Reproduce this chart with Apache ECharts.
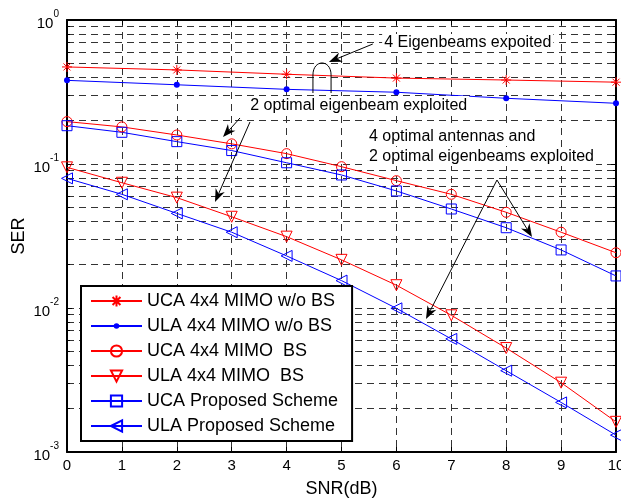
<!DOCTYPE html>
<html>
<head>
<meta charset="utf-8">
<script src="https://cdn.jsdelivr.net/npm/echarts@6/dist/echarts.min.js"></script>
<style>
html,body{margin:0;padding:0;background:#fff;}
#c{width:621px;height:504px;}
</style>
</head>
<body>
<div id="c"></div>
<script>
// ---- data ----
const snr = [0,1,2,3,4,5,6,7,8,9,10];
const snrEven = [0,2,4,6,8,10];
const ucaNoBS = [0.472,0.45,0.42,0.395,0.383,0.37];
const ulaNoBS = [0.381,0.355,0.33,0.315,0.286,0.264];
const ucaBS = [0.197,0.181,0.159,0.138,0.118,0.0958,0.0766,0.0616,0.0462,0.0336,0.0242];
const ulaBS = [0.0948,0.0741,0.0584,0.043,0.0313,0.0216,0.0144,0.0089,0.00527,0.00303,0.00162];
const ucaProp = [0.1845,0.166,0.143,0.124,0.102,0.0839,0.065,0.0487,0.0361,0.0253,0.0167];
const ulaProp = [0.0795,0.0616,0.0454,0.0336,0.023,0.0155,0.00995,0.0061,0.00367,0.00221,0.00131];
const seriesNames = ['UCA 4x4 MIMO w/o BS','ULA 4x4 MIMO w/o BS','UCA 4x4 MIMO  BS','ULA 4x4 MIMO  BS','UCA Proposed Scheme','ULA Proposed Scheme'];
const xTicks = [0,1,2,3,4,5,6,7,8,9,10];
// annotation anchors (data coordinates)
const annText1 = {text:'4 Eigenbeams expoited', at:[5.74, 0.692]};
const annArrow1 = {from:[5.57, 0.681], to:[4.77, 0.511]};
const annArch = {x1:4.48, x2:4.81, top:0.503, bottom:0.311};
const annText2 = {text:'2 optimal eigenbeam exploited', at:[3.30, 0.253]};
const annArrows2 = [{from:[3.151,0.2087], to:[2.842,0.154]}, {from:[3.333,0.1957], to:[2.696,0.0545]}];
const annText3 = [{text:'4 optimal antennas and', at:[5.464,0.154]}, {text:'2 optimal eigenbeams exploited', at:[5.464,0.112]}];
const annArrows3 = [{from:[7.832,0.0774], to:[8.47,0.0311]}, {from:[7.832,0.0774], to:[6.539,0.00839]}];

const FONT = '"Liberation Sans", Arial, Helvetica, sans-serif';
const RED = '#ff0000', BLUE = '#0000ff';
const gridLine = {show:true, lineStyle:{color:'#333', width:1, type:[7,5]}};
const STAR = 'path://M0,-10L0,10M-10,0L10,0M-7,-7L7,7M-7,7L7,-7';
const DOT = 'path://M-6,-6M6,6M-3,0A3,3 0 1,0 3,0A3,3 0 1,0 -3,0Z';

function pairs(xs, ys){ return xs.map((x,i)=>[x, ys[i]]); }
function mk(name, xs, ys, color, symbol, size, opts){
  return Object.assign({
    name, type:'line', data:pairs(xs, ys), symbol, symbolSize:size,
    lineStyle:{color, width:1}, itemStyle:{color:'rgba(0,0,0,0)', borderColor:color, borderWidth:1},
    showAllSymbol:true, animation:false, z:3
  }, opts||{});
}

const chart = echarts.init(document.getElementById('c'), null, {renderer:'canvas'});
const option = {
  backgroundColor:'#fff',
  animation:false,
  grid:{left:67, right:5, top:20, bottom:52, containLabel:false, outerBoundsMode:'none'},
  legend:{
    orient:'vertical', left:81, top:286,
    itemWidth:51, itemHeight:14, itemGap:7,
    padding:[6,14,6,9],
    borderColor:'#000', borderWidth:2, backgroundColor:'#fff',
    textStyle:{fontFamily:FONT, fontSize:18, color:'#000'},
    data:seriesNames, z:10
  },
  xAxis:[{
    type:'value', min:0, max:10, interval:1,
    name:'SNR(dB)', nameLocation:'middle', nameGap:28,
    nameTextStyle:{fontFamily:FONT, fontSize:18, color:'#000'},
    axisLine:{show:true, onZero:false, lineStyle:{color:'#000', width:2}},
    axisTick:{show:true, inside:true, length:5, lineStyle:{color:'#000'}},
    axisLabel:{fontFamily:FONT, fontSize:15, color:'#000', margin:6, hideOverlap:false},
    splitLine:gridLine
  },{
    type:'value', min:0, max:10, interval:1, position:'top',
    axisLine:{show:true, onZero:false, lineStyle:{color:'#000', width:2}},
    axisTick:{show:true, inside:true, length:5, lineStyle:{color:'#000'}},
    axisLabel:{show:false}, splitLine:{show:false}
  }],
  yAxis:[{
    type:'log', logBase:10, min:0.001, max:1,
    name:'SER', nameLocation:'middle', nameGap:39, nameRotate:90, nameMoveOverlap:false,
    nameTextStyle:{fontFamily:FONT, fontSize:18, color:'#000'},
    axisLine:{show:true, onZero:false, lineStyle:{color:'#000', width:2}},
    axisTick:{show:true, inside:true, length:5, lineStyle:{color:'#000'}},
    minorTick:{show:true, splitNumber:9, length:3, lineStyle:{color:'#000'}},
    minorSplitLine:gridLine,
    axisLabel:{
      margin:8,
      formatter:function(v){ const e = Math.round(Math.log10(v)); return '{b|10}{s|' + e + '}'; },
      rich:{
        b:{fontFamily:FONT, fontSize:15, color:'#000', lineHeight:22, verticalAlign:'bottom'},
        s:{fontFamily:FONT, fontSize:10, color:'#000', lineHeight:12, verticalAlign:'top'}
      }
    },
    splitLine:gridLine
  },{
    type:'log', logBase:10, min:0.001, max:1, position:'right',
    axisLine:{show:true, onZero:false, lineStyle:{color:'#000', width:2}},
    axisTick:{show:true, inside:true, length:5, lineStyle:{color:'#000'}},
    minorTick:{show:true, splitNumber:9, length:3, lineStyle:{color:'#000'}},
    axisLabel:{show:false}, splitLine:{show:false}
  }],
  series:[
    mk(seriesNames[0], snrEven, ucaNoBS, RED, STAR, 10),
    mk(seriesNames[1], snrEven, ulaNoBS, BLUE, DOT, 12, {itemStyle:{color:BLUE, borderColor:BLUE, borderWidth:0}}),
    mk(seriesNames[2], snr, ucaBS, RED, 'circle', 10),
    mk(seriesNames[3], snr, ulaBS, RED, 'triangle', 11, {symbolRotate:180}),
    mk(seriesNames[4], snr, ucaProp, BLUE, 'rect', 10),
    mk(seriesNames[5], snr, ulaProp, BLUE, 'triangle', 11, {symbolRotate:90})
  ]
};
chart.setOption(option);

// ---- annotations ----
function P(pt){ return chart.convertToPixel({xAxisIndex:0, yAxisIndex:0}, pt); }
function arrow(a){
  const t = P(a.from), h = P(a.to);
  let dx = h[0]-t[0], dy = h[1]-t[1]; const L = Math.hypot(dx,dy); dx/=L; dy/=L;
  const nx = -dy, ny = dx, HL = 13, HW = 5, NOTCH = 4;
  const base = [h[0]-(HL-NOTCH)*dx, h[1]-(HL-NOTCH)*dy];
  return [
    {type:'line', z:20, shape:{x1:t[0], y1:t[1], x2:base[0], y2:base[1]}, style:{stroke:'#000', lineWidth:1}},
    {type:'polygon', z:20, shape:{points:[h, [h[0]-HL*dx+HW*nx, h[1]-HL*dy+HW*ny], base, [h[0]-HL*dx-HW*nx, h[1]-HL*dy-HW*ny]]}, style:{fill:'#000'}}
  ];
}
function label(t, pad){
  const p = P(t.at);
  return {type:'text', z:20, x:p[0], y:p[1], style:{text:t.text, font:'16px ' + FONT, fill:'#000', verticalAlign:'middle', align:'left', backgroundColor:'#fff', padding:pad||[1,2,1,2]}};
}
const g = [];
g.push(label(annText1));
g.push(...arrow(annArrow1));
(function(){
  const l = P([annArch.x1, annArch.bottom]), r = P([annArch.x2, annArch.bottom]), tp = P([annArch.x1, annArch.top]);
  const ym = tp[1] + 12, yc = tp[1] - 4;
  g.push({type:'line', z:20, shape:{x1:l[0], y1:l[1], x2:l[0], y2:ym}, style:{stroke:'#000', lineWidth:1}});
  g.push({type:'line', z:20, shape:{x1:r[0], y1:r[1], x2:r[0], y2:ym}, style:{stroke:'#000', lineWidth:1}});
  g.push({type:'bezierCurve', z:20, shape:{x1:l[0], y1:ym, x2:r[0], y2:ym, cpx1:l[0], cpy1:yc, cpx2:r[0], cpy2:yc}, style:{stroke:'#000', fill:null, lineWidth:1}});
})();
g.push(label(annText2, [3,2,1,2]));
annArrows2.forEach(a=>g.push(...arrow(a)));
annText3.forEach(t=>g.push(label(t, [1,2,1,2])));
annArrows3.forEach(a=>g.push(...arrow(a)));
chart.setOption({graphic:g});
</script>
</body>
</html>
